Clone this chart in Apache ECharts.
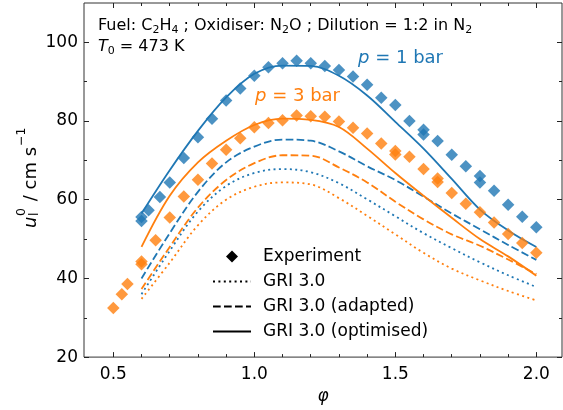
<!DOCTYPE html>
<html>
<head>
<meta charset="utf-8">
<script src="https://cdn.jsdelivr.net/npm/echarts@6/dist/echarts.min.js"></script>
<style>
html,body{margin:0;padding:0;background:#fff;}
#c{width:563px;height:410px;}
</style>
</head>
<body>
<div id="c"></div>
<script>
// ---- axis ticks ----
const xMajor = [0.5, 1.0, 1.5, 2.0];
const xMinor = [0.6, 0.7, 0.8, 0.9, 1.1, 1.2, 1.3, 1.4, 1.6, 1.7, 1.8, 1.9];
const yMajor = [20, 40, 60, 80, 100];
const yMinor = [30, 50, 70, 90];

// ---- experiments ----
const phiExp1 = [0.6, 0.6, 0.625, 0.665, 0.7, 0.75, 0.8, 0.85, 0.9, 0.95, 1.0, 1.05, 1.1, 1.15, 1.2, 1.25, 1.3, 1.35, 1.4, 1.45, 1.5, 1.55, 1.6, 1.6, 1.65, 1.7, 1.75, 1.8, 1.8, 1.85, 1.9, 1.95, 2.0];
const exp1bar = [55.6, 54.6, 57.3, 60.7, 64.4, 70.6, 75.9, 80.6, 85.2, 88.3, 91.5, 93.7, 94.7, 95.3, 94.7, 94.0, 93.0, 91.3, 89.2, 85.9, 84.1, 80.0, 77.8, 76.6, 74.9, 71.4, 68.5, 66.0, 64.4, 62.3, 58.7, 55.7, 53.0];
const phiExp3 = [0.5, 0.53, 0.55, 0.6, 0.6, 0.65, 0.7, 0.75, 0.8, 0.85, 0.9, 0.95, 1.0, 1.05, 1.1, 1.15, 1.2, 1.25, 1.3, 1.35, 1.4, 1.45, 1.5, 1.5, 1.55, 1.6, 1.65, 1.65, 1.7, 1.75, 1.8, 1.85, 1.9, 1.95, 2.0];
const exp3bar = [32.5, 36.0, 38.6, 44.3, 43.6, 49.7, 55.5, 60.8, 65.1, 69.2, 72.7, 75.6, 78.4, 79.5, 80.2, 81.4, 81.2, 81.1, 79.9, 78.3, 76.8, 74.3, 72.4, 71.5, 70.9, 67.8, 65.4, 64.5, 61.7, 59.0, 56.8, 54.2, 51.3, 49.0, 46.5];

// ---- models ----
const phiModel = [0.6, 0.7, 0.8, 0.9, 1.0, 1.1, 1.2, 1.3, 1.4, 1.5, 1.6, 1.7, 1.8, 1.9, 2.0];
const gri1 =     [36.0, 47.0, 57.0, 63.5, 66.8, 67.8, 67.0, 64.2, 60.1, 55.8, 51.5, 47.7, 44.1, 40.8, 37.8];
const adapt1 =   [40.0, 51.5, 62.0, 69.5, 73.5, 75.3, 75.0, 72.3, 68.5, 65.0, 60.8, 56.5, 52.5, 48.5, 44.7];
const optim1 =   [56.5, 67.5, 77.5, 86.0, 92.0, 94.1, 94.0, 91.5, 86.5, 79.8, 73.0, 65.3, 57.5, 52.2, 48.0];
const gri3 =     [34.8, 44.0, 53.5, 60.0, 63.3, 64.4, 63.9, 60.4, 55.9, 51.2, 46.5, 42.5, 39.5, 36.8, 34.4];
const adapt3 =   [37.3, 48.0, 58.0, 65.0, 69.3, 71.3, 71.2, 68.2, 64.4, 59.5, 55.0, 51.2, 48.3, 44.8, 41.1];
const optim3 =   [48.0, 61.0, 69.5, 75.0, 79.0, 80.6, 80.3, 78.5, 73.0, 66.8, 61.0, 55.4, 50.0, 45.6, 40.7];

const BLUE = '#1f77b4', ORANGE = '#ff7f0e';
const FONT = 'DejaVu Sans';
const zip = (a, b) => a.map((v, i) => [v, b[i]]);
const XMIN = 0.396, XMAX = 2.091, YMIN = 20, YMAX = 110;

const DOT = [2, 3.4], DASH = [7.7, 3.3];
function lineSeries(name, x, y, color, type) {
  return { name: name, type: 'line', data: zip(x, y), symbol: 'none', smooth: 0.35,
    lineStyle: { color: color, width: 1.8, type: type }, silent: true, z: 2 };
}
function expSeries(x, y, color) {
  return { type: 'scatter', data: zip(x, y), symbol: 'diamond', symbolSize: 12.5,
    itemStyle: { color: color }, silent: true, z: 3 };
}
const tickColor = '#222';
function xAx(pos, values, len, labels) {
  return { type: 'value', position: pos, min: XMIN, max: XMAX, gridIndex: 0,
    axisLine: { show: false }, splitLine: { show: false },
    axisTick: { show: true, inside: true, length: len, customValues: values, lineStyle: { color: tickColor, width: 1 } },
    axisLabel: labels ? { show: true, customValues: values, formatter: v => v.toFixed(1), fontFamily: FONT, fontSize: 17, color: '#000', margin: 9 } : { show: false } };
}
function yAx(pos, values, len, labels) {
  return { type: 'value', position: pos, min: YMIN, max: YMAX, gridIndex: 0,
    axisLine: { show: false }, splitLine: { show: false },
    axisTick: { show: true, inside: true, length: len, customValues: values, lineStyle: { color: tickColor, width: 1 } },
    axisLabel: labels ? { show: true, customValues: values, formatter: v => String(v), fontFamily: FONT, fontSize: 17, color: '#000', margin: 6 } : { show: false } };
}

const xAxes = [xAx('bottom', xMajor, 5, true), xAx('bottom', xMinor, 3, false), xAx('top', xMajor, 5, false), xAx('top', xMinor, 3, false)];
xAxes[0].name = 'φ';
xAxes[0].nameLocation = 'middle';
xAxes[0].nameGap = 30;
xAxes[0].nameTextStyle = { fontFamily: FONT, fontSize: 17, fontStyle: 'italic', color: '#000' };
const yAxes = [yAx('left', yMajor, 5, true), yAx('left', yMinor, 3, false), yAx('right', yMajor, 5, false), yAx('right', yMinor, 3, false)];

const series = [
  lineSeries('m1', phiModel, gri1, BLUE, DOT),
  lineSeries('m2', phiModel, gri3, ORANGE, DOT),
  lineSeries('m3', phiModel, adapt1, BLUE, DASH),
  lineSeries('m4', phiModel, adapt3, ORANGE, DASH),
  lineSeries('m5', phiModel, optim1, BLUE, 'solid'),
  lineSeries('m6', phiModel, optim3, ORANGE, 'solid'),
  expSeries(phiExp1, exp1bar, BLUE),
  expSeries(phiExp3, exp3bar, ORANGE),
  // legend proxies
  { name: 'Experiment', type: 'line', data: [], symbol: 'diamond', itemStyle: { color: '#000' }, lineStyle: { color: '#000', width: 0, opacity: 0 } },
  { name: 'GRI 3.0', type: 'line', data: [], symbol: 'none', itemStyle: { color: '#000' }, lineStyle: { color: '#000', width: 1.8, type: DOT } },
  { name: 'GRI 3.0 (adapted)', type: 'line', data: [], symbol: 'none', itemStyle: { color: '#000' }, lineStyle: { color: '#000', width: 1.8, type: DASH } },
  { name: 'GRI 3.0 (optimised)', type: 'line', data: [], symbol: 'none', itemStyle: { color: '#000' }, lineStyle: { color: '#000', width: 1.8, type: 'solid' } }
];

const chart = echarts.init(document.getElementById('c'), null, { renderer: 'canvas' });
chart.setOption({
  animation: false,
  backgroundColor: '#fff',
  grid: { left: 84, right: 1, top: 3, bottom: 52, show: true, borderColor: '#333', borderWidth: 1, containLabel: false },
  xAxis: xAxes,
  yAxis: yAxes,
  legend: {
    data: [
      { name: 'Experiment' },
      { name: 'GRI 3.0', itemStyle: { opacity: 0 } },
      { name: 'GRI 3.0 (adapted)', itemStyle: { opacity: 0 } },
      { name: 'GRI 3.0 (optimised)', itemStyle: { opacity: 0 } }
    ],
    orient: 'vertical', left: 207, top: 243, itemWidth: 38, itemHeight: 15, itemGap: 8,
    selectedMode: false,
    textStyle: { fontFamily: FONT, fontSize: 17, color: '#000', padding: [0, 0, 0, 7] }
  },
  series: series,
  graphic: [
    { type: 'text', left: 98, top: 15, silent: true,
      style: { text: 'Fuel: C{s|2}H{s|4} ; Oxidiser: N{s|2}O ; Dilution = 1:2 in N{s|2}\n{i|T}{s|0} = 473 K',
        fontFamily: FONT, fontSize: 16, fill: '#000', lineHeight: 21,
        rich: { s: { fontFamily: FONT, fontSize: 11, fill: '#000', verticalAlign: 'bottom', lineHeight: 21 },
                i: { fontFamily: FONT, fontSize: 16, fontStyle: 'italic', fill: '#000', lineHeight: 21 } } } },
    { type: 'text', left: 358, top: 49, silent: true,
      style: { text: '{i|p} = 1 bar', fontFamily: FONT, fontSize: 18, fill: BLUE,
        rich: { i: { fontFamily: FONT, fontSize: 18, fontStyle: 'italic', fill: BLUE } } } },
    { type: 'text', left: 255, top: 87, silent: true,
      style: { text: '{i|p} = 3 bar', fontFamily: FONT, fontSize: 18, fill: ORANGE,
        rich: { i: { fontFamily: FONT, fontSize: 18, fontStyle: 'italic', fill: ORANGE } } } },
    { type: 'group', x: 36, y: 228, rotation: Math.PI / 2, silent: true,
      children: [
        { type: 'text', x: 0, y: -5, style: { text: 'u', fontFamily: FONT, fontSize: 18, fontStyle: 'italic', fill: '#000', verticalAlign: 'middle' } },
        { type: 'text', x: 12, y: -14, style: { text: '0', fontFamily: FONT, fontSize: 12.5, fill: '#000', verticalAlign: 'middle' } },
        { type: 'text', x: 12, y: -1, style: { text: 'l', fontFamily: FONT, fontSize: 12.5, fill: '#000', verticalAlign: 'middle' } },
        { type: 'text', x: 21, y: -5, style: { text: ' / cm s', fontFamily: FONT, fontSize: 18, fill: '#000', verticalAlign: 'middle' } },
        { type: 'text', x: 82, y: -14, style: { text: '\u22121', fontFamily: FONT, fontSize: 12.5, fill: '#000', verticalAlign: 'middle' } }
      ] }
  ]
});
</script>
</body>
</html>
